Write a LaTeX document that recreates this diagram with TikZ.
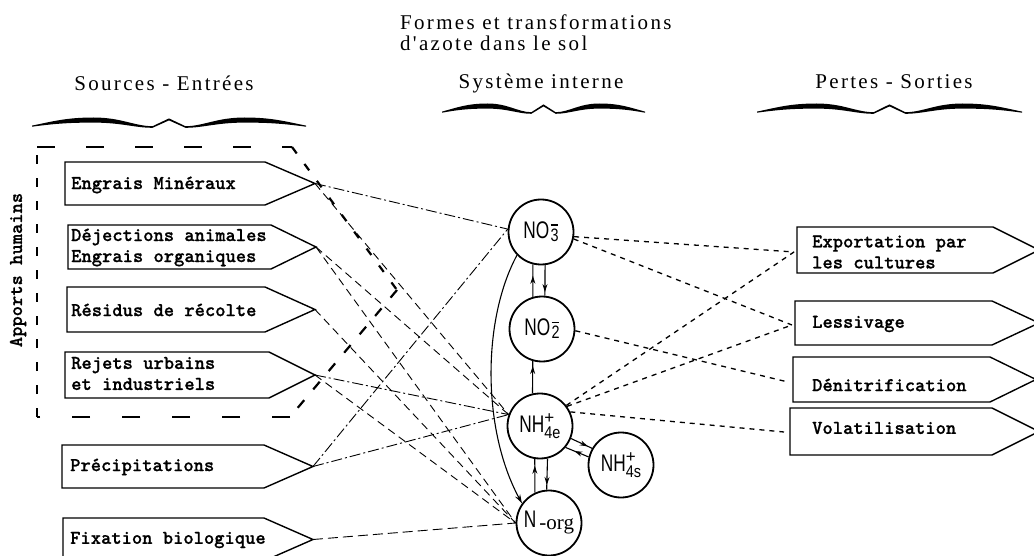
\documentclass[tikz,border=0pt]{standalone}
\usepackage{fontspec}
\usepackage{graphicx}
\setmainfont{Liberation Serif}
\newfontfamily\hdr[LetterSpace=11]{Liberation Serif}
\newfontfamily\tw[FakeBold=0.8]{lmmonolt10-bold.otf}
\newfontfamily\cf{Liberation Sans}
\usetikzlibrary{arrows.meta,decorations.markings}
\newcommand\wbrace[3]{%
\begin{scope}[shift={(#1,#2)},xscale=#3]
\fill (-1,5.6) .. controls (-0.85,1.5) and (-0.75,-2.5) .. (-0.55,-2.5)
 .. controls (-0.35,-2.5) and (-0.25,6.2) .. (-0.12,6.2) -- (0,-1.6) -- (0.12,6.2)
 .. controls (0.25,6.2) and (0.35,-2.5) .. (0.55,-2.5)
 .. controls (0.75,-2.5) and (0.85,1.5) .. (1,5.6)
 -- (1,6.7) .. controls (0.85,4.0) and (0.75,2.6) .. (0.55,2.6)
 .. controls (0.35,2.6) and (0.25,7.8) .. (0.12,7.8) -- (0,0.4) -- (-0.12,7.8)
 .. controls (-0.25,7.8) and (-0.35,2.6) .. (-0.55,2.6)
 .. controls (-0.75,2.6) and (-0.85,4.0) .. (-1,6.7) -- cycle;
\end{scope}}
\newcommand\srcshape[6]{% name L T R B tip
\draw[boxline] (#2,#3) -- (#4,#3) -- (#6,{(#3+#5)/2}) -- (#4,#5) -- (#2,#5) -- cycle;
\coordinate (#1) at (#6,{(#3+#5)/2});}
\newcommand\outshape[5]{% L T R B tip
\draw[boxline] (#1,#2) -- (#3,#2) -- (#5,{(#2+#4)/2}) -- (#3,#4) -- (#1,#4) -- cycle;}
\newcommand\lbl[2]{\scalebox{0.72}[1]{#1}#2}
\begin{document}
\begin{tikzpicture}[x=1pt,y=-1pt,
 boxline/.style={line width=1.4pt, line join=miter},
 boxtext/.style={font=\tw\fontsize{19.6}{21}\selectfont, inner sep=0pt, align=left, anchor=west},
 hdrtext/.style={font=\hdr\fontsize{21}{21}\selectfont, inner sep=0pt},
 ion/.style={circle, draw, line width=1.8pt, minimum size=65pt, inner sep=0pt, font=\cf\fontsize{24}{24}\selectfont},
 dd/.style={line width=0.9pt, dash pattern=on 11pt off 3pt on 2pt off 3pt},
 ds/.style={line width=0.9pt, dash pattern=on 8pt off 5pt},
 dt/.style={line width=1.3pt, dash pattern=on 5pt off 5pt},
 hum/.style={line width=2.2pt},
 flow/.style={line width=1.1pt, postaction=decorate,
   decoration={markings, mark=at position #1 with {\arrow{Stealth[length=8pt,width=5pt]}}}}]
\useasboundingbox (0,0) rectangle (1034,556);
\clip (0,0) rectangle (1034,556);

% headers
\node[hdrtext, anchor=west, align=left] (title) at (400,33) {Formes et transformations\\d'azote dans le sol};
\node[hdrtext] (hsrc) at (164,83) {Sources - Entrées};
\node[hdrtext] (hsys) at (541,83) {Système interne};
\node[hdrtext] (hout) at (894,82) {Pertes - Sorties};
\wbrace{169}{120}{137}
\wbrace{543.5}{106}{101.5}
\wbrace{889.5}{106}{132.5}

% human inputs frame
\draw[hum, dash pattern=on 18pt off 31pt] (37,147) -- (292,147);
\draw[hum, dash pattern=on 8pt off 13pt] (292,147) -- (397,290);
\draw[hum, dash pattern=on 10pt off 14pt] (397,290) -- (290,417);
\draw[hum, dash pattern=on 18pt off 32pt] (290,417) -- (37,417);
\draw[hum, dash pattern=on 9pt off 14pt] (37,417) -- (37,147);
\node[boxtext, anchor=center, rotate=90] (apports) at (18,270) {Apports humains};

% source boxes
\srcshape{eng}{65}{162}{265}{205}{315}
\srcshape{dej}{68}{225}{271}{269}{316}
\srcshape{res}{67}{287}{265}{332}{315}
\srcshape{rej}{65}{352}{269}{398}{315}
\srcshape{pre}{62}{445}{264}{488}{313}
\srcshape{fix}{63}{518}{264}{561}{313}
\node[boxtext] (t-eng) at (71,185) {Engrais Minéraux};
\node[boxtext] (t-dej) at (71,247.5) {Déjections animales\\Engrais organiques};
\node[boxtext] (t-res) at (71,310) {Résidus de récolte};
\node[boxtext] (t-rej) at (71,373.5) {Rejets urbains\\et industriels};
\node[boxtext] (t-pre) at (70,467) {Précipitations};
\node[boxtext] (t-fix) at (70,540) {Fixation biologique};

% output boxes
\outshape{797}{227}{993}{273}{1039}
\outshape{795}{301}{992}{345}{1039}
\outshape{793}{357}{990}{402}{1036}
\outshape{790}{408}{992}{455}{1039}
\coordinate (exp) at (794,252);
\coordinate (les) at (792,325);
\coordinate (den) at (788,382);
\coordinate (vol) at (784,432);
\node[boxtext] (t-exp) at (812,252) {Exportation par\\les cultures};
\node[boxtext] (t-les) at (812,324) {Lessivage};
\node[boxtext] (t-den) at (812,385) {Dénitrification};
\node[boxtext] (t-vol) at (812,428) {Volatilisation};

% internal system
\node[ion] (no3) at (541,232) {\lbl{NO}{\hspace{1.5pt}\makebox[0pt][l]{\raisebox{13pt}{\rule{7pt}{1.3pt}}}\raisebox{-3pt}{\fontsize{18}{18}\selectfont\scalebox{0.8}[1]{3}}}};
\node[ion] (no2) at (542,329) {\lbl{NO}{\hspace{1.5pt}\makebox[0pt][l]{\raisebox{13pt}{\rule{7pt}{1.3pt}}}\raisebox{-3pt}{\fontsize{18}{18}\selectfont\scalebox{0.8}[1]{2}}}};
\node[ion] (nh4e) at (540,426) {\lbl{NH}{\makebox[0pt][l]{\raisebox{9pt}{\fontsize{17}{17}\selectfont +}}\raisebox{-6pt}{\fontsize{17}{17}\selectfont\scalebox{0.85}[1]{4e}}}};
\node[ion] (nh4s) at (621,465) {\lbl{NH}{\makebox[0pt][l]{\raisebox{9pt}{\fontsize{17}{17}\selectfont +}}\raisebox{-6pt}{\fontsize{17}{17}\selectfont\scalebox{0.85}[1]{4s}}}};
\node[ion] (norg) at (549,523) {\lbl{N}{\hspace{3pt}\raisebox{-2pt}{\rmfamily\fontsize{21}{21}\selectfont -org}}};

% internal transformations
\draw[flow=0.65] (no2.106) -- (no3.256);
\draw[flow=0.88] (no3.277) -- (no2.85);
\draw[flow=0.85] (nh4e.103) -- (no2.254);
\draw[flow=0.8] (norg.115) -- (nh4e.261);
\draw[flow=0.85] (nh4e.283) -- (norg.94);
\draw[flow=0.8] (nh4e.-22) -- (nh4s.150);
\draw[flow=0.62] (nh4s.166) -- (nh4e.-40);
\draw[line width=1.1pt, -{Stealth[length=9pt,width=5.5pt]}] (no3.224) .. controls (482,320) and (482,430) .. (norg.144);

% inputs
\draw[dd] (eng) -- (no3.175);
\draw[ds] (eng) -- (nh4e.160);
\draw[ds] (dej) -- (nh4e.160);
\draw[ds] (dej) -- (norg.west);
\draw[ds] (res) -- (norg.west);
\draw[dd] (rej) -- (nh4e.160);
\draw[ds] (rej) -- (norg.west);
\draw[dd] (pre) -- (no3.175);
\draw[dd] (pre) -- (nh4e.160);
\draw[ds, dash pattern=on 10pt off 5pt] (fix) -- (norg.west);

% outputs
\draw[dt] (no3.-8) -- (exp);
\draw[dt] (no3.-12) -- (les);
\draw[dt] (no2.-3) -- (den);
\draw[dt] (nh4e.38) -- (exp);
\draw[dt] (nh4e.36) -- (les);
\draw[dt] (nh4e.25) -- (vol);
\end{tikzpicture}
\end{document}
